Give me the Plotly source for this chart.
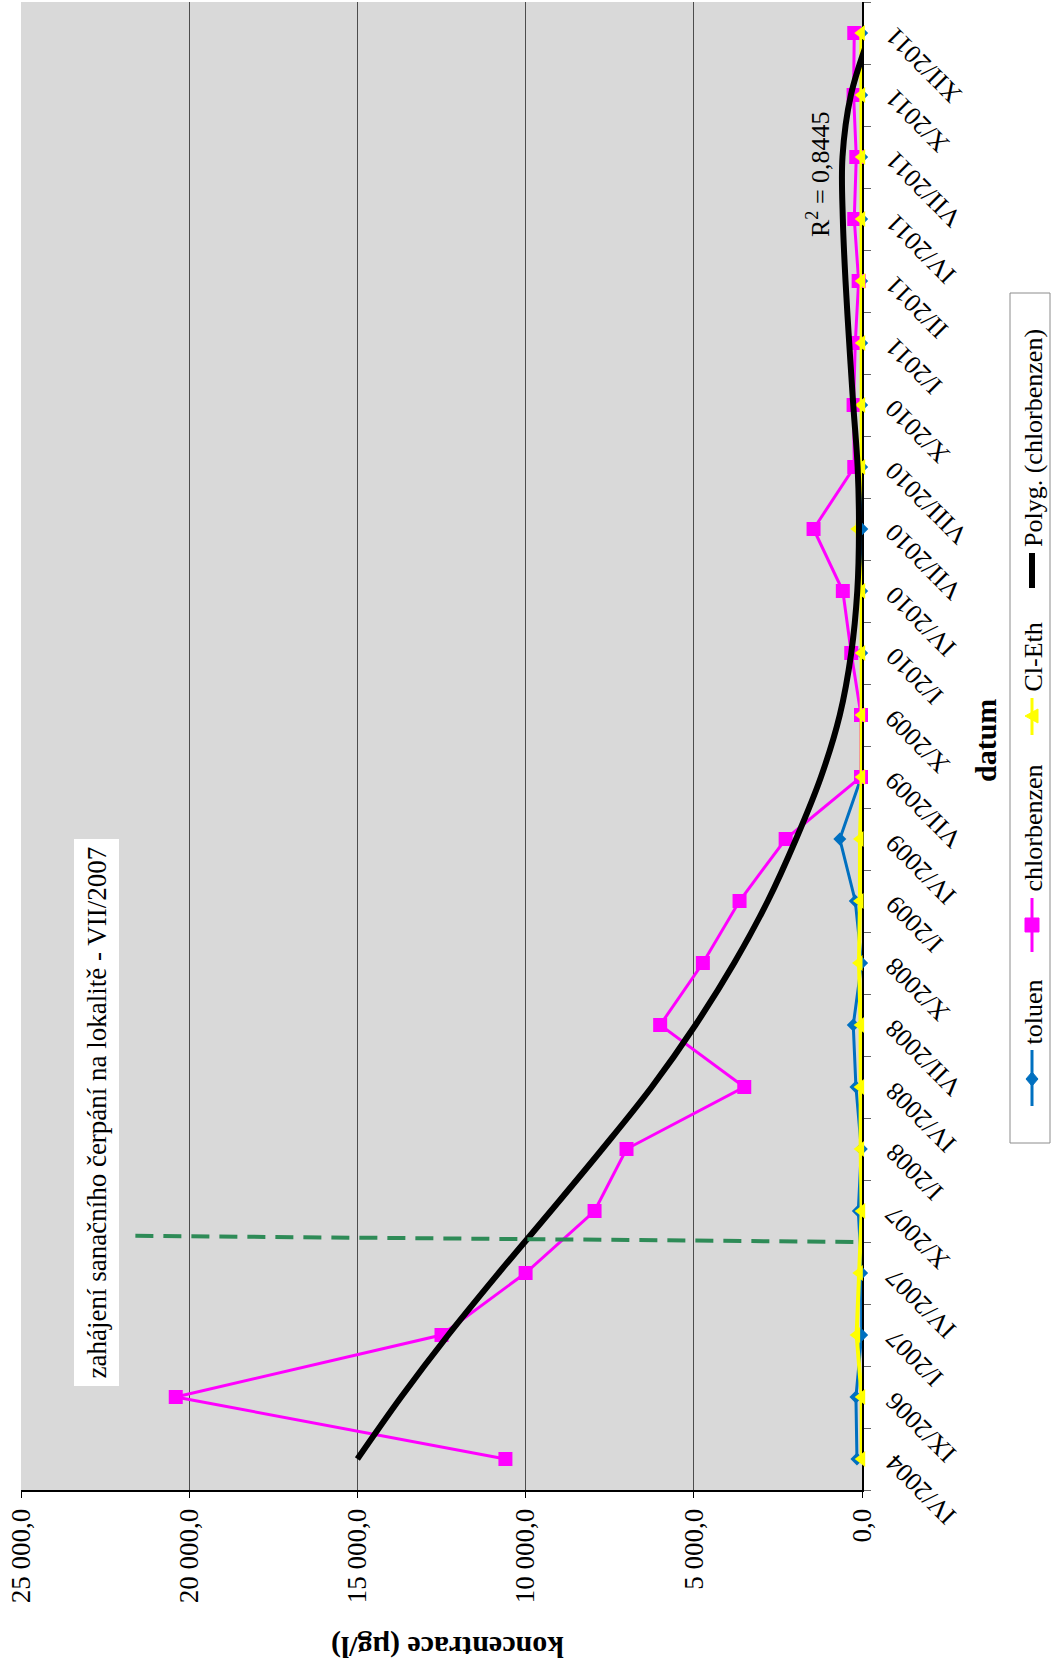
import plotly.graph_objects as go

# Sampling dates (category axis, oldest first)
categories = [
    "IV/2004", "IX/2006", "I/2007", "IV/2007", "X/2007", "I/2008", "IV/2008",
    "VII/2008", "X/2008", "I/2009", "IV/2009", "VII/2009", "X/2009", "I/2010",
    "IV/2010", "VII/2010", "VIII/2010", "X/2010", "I/2011", "II/2011",
    "IV/2011", "VII/2011", "X/2011", "XII/2011",
]

# Concentrations in µg/l
toluen = [150, 180, 10, 10, 110, 20, 180, 260, 10, 200, 660, 20,
          10, 10, 10, 5, 10, 10, 10, 10, 10, 10, 10, 10]
chlorbenzen = [10600, 20400, 12500, 10000, 7950, 7000, 3500, 6000, 4730, 3640,
               2270, 30, 30, 320, 570, 1440, 230, 250, 200, 100, 230, 170, 250, 230]
cl_eth = [10, 10, 160, 80, 10, 40, 40, 40, 90, 60, 60, 10,
          10, 10, 10, 140, 10, 10, 10, 10, 10, 10, 10, 20]
# Polynomial trend of chlorbenzen
polyg_chlorbenzen = [15000, 13700, 12300, 10800, 9250, 7720, 6250, 4950, 3800,
                     2800, 1960, 1220, 660, 320, 140, 90, 130, 260, 380, 490,
                     570, 580, 330, -250]
r_squared = "R<sup>2</sup> = 0,8445"

value_ticks = [0, 5000, 10000, 15000, 20000, 25000]
value_tick_text = ["0,0", "5 000,0", "10 000,0", "15 000,0", "20 000,0", "25 000,0"]

W, H = 1052, 1672
FONT = "Liberation Serif, Times New Roman, serif"

C_TOL = "#0070C0"
C_CHB = "#FF00FF"
C_CLE = "#FFFF00"
C_TREND = "#000000"
C_START = "#2E8B57"


def fx(px):
    return px / W


def fy(py):
    return 1 - py / H


PL, PR, PT, PB = 21, 862, 2, 1490

fig = go.Figure()

fig.add_trace(go.Scatter(
    x=toluen, y=categories, mode="lines+markers", name="toluen",
    line=dict(color=C_TOL, width=3),
    marker=dict(symbol="diamond", size=10, color=C_TOL),
    cliponaxis=False,
))
fig.add_trace(go.Scatter(
    x=chlorbenzen, y=categories, mode="lines+markers", name="chlorbenzen",
    line=dict(color=C_CHB, width=3),
    marker=dict(symbol="square", size=14, color=C_CHB),
    cliponaxis=False,
))
fig.add_trace(go.Scatter(
    x=cl_eth, y=categories, mode="lines+markers", name="Cl-Eth",
    line=dict(color=C_CLE, width=4),
    marker=dict(symbol="triangle-left", size=14, color=C_CLE),
    cliponaxis=False,
))
fig.add_trace(go.Scatter(
    x=polyg_chlorbenzen, y=categories, mode="lines", name="Polyg. (chlorbenzen)",
    line=dict(color=C_TREND, width=6, shape="spline", smoothing=1.0),
))

annotations = []

# Date labels along the right-hand category axis
for cat in categories:
    annotations.append(dict(
        xref="paper", yref="y", x=fx(877), y=cat,
        xanchor="left", yanchor="top", yshift=14,
        text=cat, textangle=-135, showarrow=False,
        font=dict(family=FONT, size=26, color="black"),
    ))

# Axis titles
annotations.append(dict(
    xref="paper", yref="paper", x=fx(448), y=fy(1647),
    xanchor="center", yanchor="middle",
    text="<b>koncentrace (µg/l)</b>", textangle=180, showarrow=False,
    font=dict(family=FONT, size=30, color="black"),
))
annotations.append(dict(
    xref="paper", yref="paper", x=fx(986), y=fy(741),
    xanchor="center", yanchor="middle",
    text="<b>datum</b>", textangle=-90, showarrow=False,
    font=dict(family=FONT, size=30, color="black"),
))

# Trend fit quality
annotations.append(dict(
    xref="paper", yref="paper", x=fx(819), y=fy(174),
    xanchor="center", yanchor="middle",
    text=r_squared, textangle=-90, showarrow=False,
    font=dict(family=FONT, size=26, color="black"),
))

# Start of remediation pumping
annotations.append(dict(
    xref="paper", yref="paper", x=fx(96.5), y=fy(1113),
    xanchor="center", yanchor="middle",
    text="zahájení sanačního čerpání na lokalitě - VII/2007",
    textangle=-90, showarrow=False, bgcolor="white", borderpad=7,
    font=dict(family=FONT, size=27, color="black"),
))

shapes = [
    dict(type="line", xref="x", yref="y", x0=21600, y0=3.6, x1=0, y1=3.5,
         line=dict(color=C_START, width=4, dash="18px,10px")),
]

# Legend box (rotated layout, entries reading bottom-to-top)
shapes.append(dict(type="rect", xref="paper", yref="paper",
                   x0=fx(1010), x1=fx(1050), y0=fy(1143), y1=fy(293),
                   line=dict(color="#8c8c8c", width=1), fillcolor="white",
                   layer="below"))

LX = 1032
legend_items = [
    ("toluen", C_TOL, 3, 1106, 1050, 1079, "diamond", 1047),
    ("chlorbenzen", C_CHB, 3, 952, 898, 925, "square", 894),
    ("Cl-Eth", C_CLE, 3, 735, 698, 716, "triangle", 694),
    ("Polyg. (chlorbenzen)", C_TREND, 6, 588, 553, None, None, 549),
]


def marker_path(kind, cx, cy):
    if kind == "diamond":
        pts = [(cx, cy - 7), (cx + 6, cy), (cx, cy + 7), (cx - 6, cy)]
    elif kind == "square":
        pts = [(cx - 7, cy - 7), (cx + 7, cy - 7), (cx + 7, cy + 7), (cx - 7, cy + 7)]
    else:
        pts = [(cx - 7, cy), (cx + 6, cy - 7), (cx + 6, cy + 7)]
    d = "M " + " L ".join(f"{fx(a):.6f},{fy(b):.6f}" for a, b in pts) + " Z"
    return d


for label, color, lw, ya, yb, ym, kind, ytext in legend_items:
    shapes.append(dict(type="line", xref="paper", yref="paper",
                       x0=fx(LX), x1=fx(LX), y0=fy(ya), y1=fy(yb),
                       line=dict(color=color, width=lw)))
    if kind:
        shapes.append(dict(type="path", xref="paper", yref="paper",
                           path=marker_path(kind, LX, ym),
                           fillcolor=color, line=dict(color=color, width=1)))
    annotations.append(dict(
        xref="paper", yref="paper", x=fx(LX + 1), y=fy(ytext),
        xanchor="center", yanchor="bottom", text=label, textangle=-90,
        showarrow=False, font=dict(family=FONT, size=26, color="black"),
    ))

fig.update_layout(
    width=W, height=H,
    margin=dict(l=0, r=0, t=0, b=0, autoexpand=False),
    paper_bgcolor="white", plot_bgcolor="#d9d9d9",
    showlegend=False,
    font=dict(family=FONT, size=27, color="black"),
    xaxis=dict(
        domain=[fx(PL), fx(PR)], range=[25000, 0], automargin=False,
        tickvals=value_ticks, ticktext=value_tick_text, tickangle=-90,
        ticks="outside", ticklen=6, tickcolor="black",
        showline=True, linecolor="black", linewidth=2,
        showgrid=True, gridcolor="#4d4d4d", gridwidth=1, zeroline=False,
        tickfont=dict(family=FONT, size=27, color="black"), anchor="y",
        layer="below traces",
    ),
    yaxis=dict(
        domain=[fy(PB), fy(PT)], type="category", automargin=False,
        categoryorder="array", categoryarray=categories, range=[-0.5, 23.5],
        side="right", showticklabels=False, ticks="outside",
        tickson="boundaries", ticklen=7, tickcolor="#666666",
        showline=True, linecolor="black", linewidth=2,
        showgrid=False, zeroline=False, anchor="x",
        layer="below traces",
    ),
    annotations=annotations,
    shapes=shapes,
)

fig.write_html("out.html")
